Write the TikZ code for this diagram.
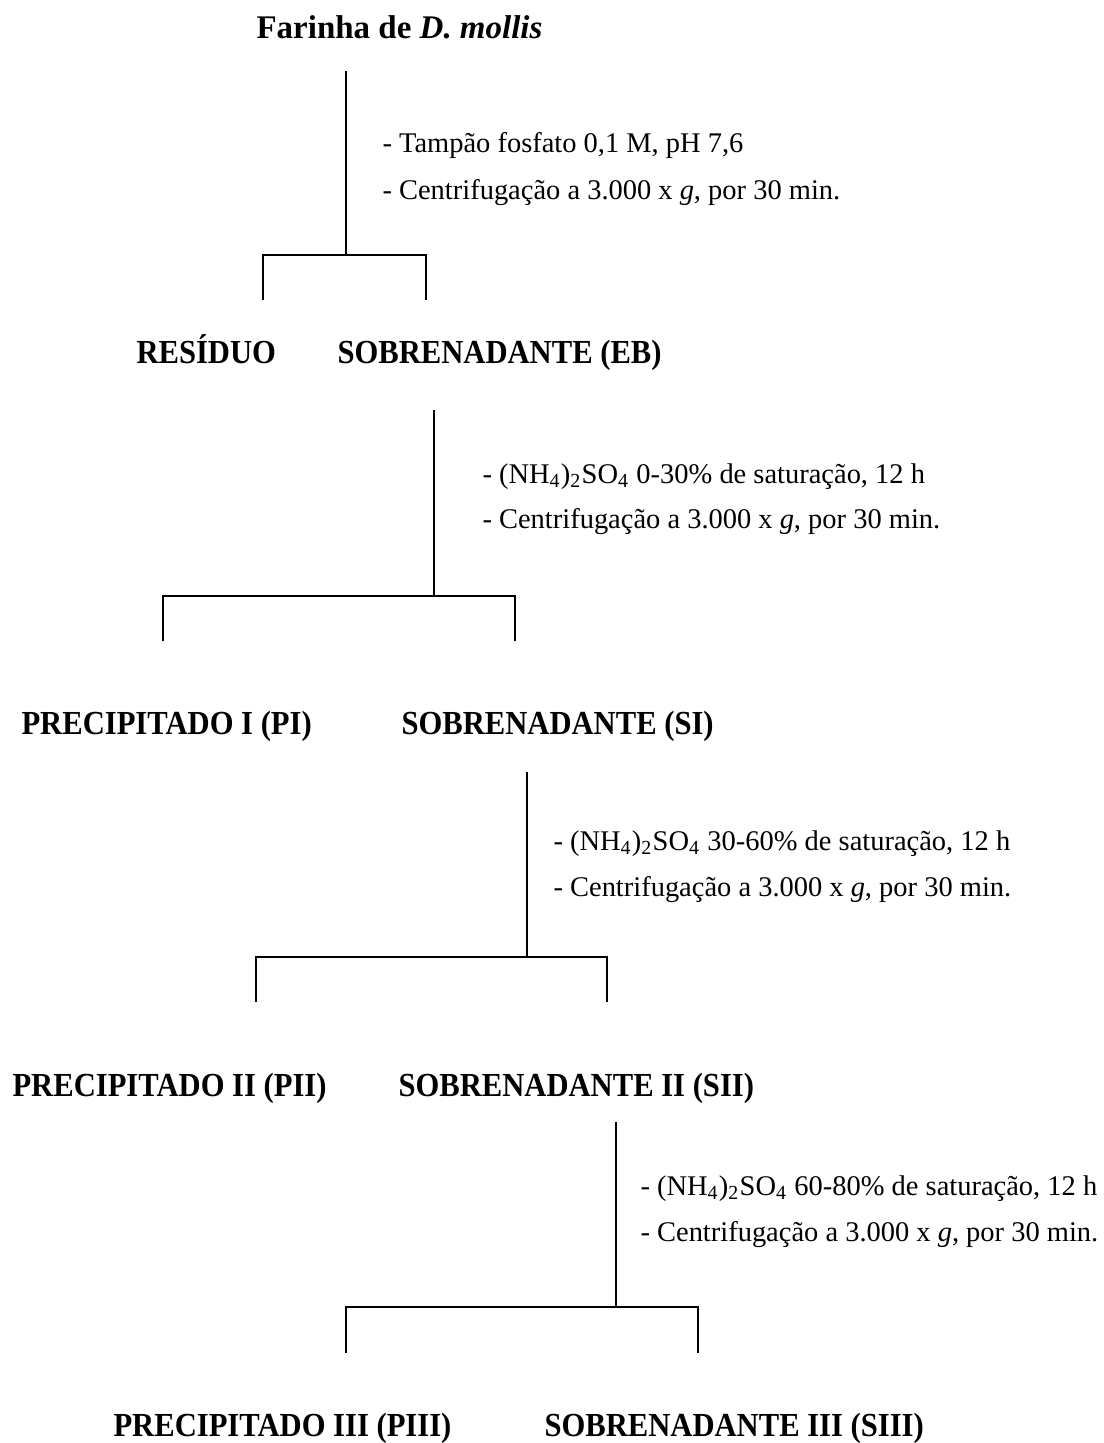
\documentclass[tikz,border=0pt]{standalone}
\usepackage{fontspec}
\setmainfont{Liberation Serif}
\newfontfamily\fractionfont[FakeStretch=0.91]{Liberation Serif}

\tikzset{
    px/.style={x=0.013587cm,y=-0.013587cm},
    headline/.style={anchor=base west,inner sep=0pt,font=\bfseries\fontsize{12.75}{15}\selectfont},
    fraction/.style={anchor=base west,inner sep=0pt,font=\fractionfont\bfseries\fontsize{13}{15}\selectfont},
    treatment/.style={anchor=base west,inner sep=0pt,font=\fontsize{11}{13}\selectfont},
    sepline/.style={line width=1.1pt},
}

\begin{document}
\begin{tikzpicture}[px]
        \useasboundingbox (0,0) rectangle (1104,1443);
        % starting material
        \node [headline] (farinha) at (256,38) {Farinha de \textit{D. mollis}};
        % extraction
        \coordinate (top1) at (346,71);
        \coordinate (mid1) at (346,255);
        \coordinate (left1) at (263,300);
        \coordinate (right1) at (426,300);
        \node [treatment] (tampao) at (382,152) {- Tampão fosfato 0,1 M, pH 7,6};
        \node [treatment] (cent1) at (382,199) {- Centrifugação a 3.000 x \textit{g}, por 30 min.};
        \node [fraction] (residuo) at (136,363) {RESÍDUO};
        \node [fraction] (eb) at (337,363) {SOBRENADANTE (EB)};
        % 0-30%
        \coordinate (top2) at (434,410);
        \coordinate (mid2) at (434,596);
        \coordinate (left2) at (163,641);
        \coordinate (right2) at (515,641);
        \node [treatment] (sulf2) at (482,483) {- (NH\textsubscript{4})\textsubscript{2}SO\textsubscript{4} 0-30\% de saturação, 12 h};
        \node [treatment] (cent2) at (482,528) {- Centrifugação a 3.000 x \textit{g}, por 30 min.};
        \node [fraction] (pi) at (21,734) {PRECIPITADO I (PI)};
        \node [fraction] (si) at (401,734) {SOBRENADANTE (SI)};
        % 30-60%
        \coordinate (top3) at (527,772);
        \coordinate (mid3) at (527,957);
        \coordinate (left3) at (256,1002);
        \coordinate (right3) at (607,1002);
        \node [treatment] (sulf3) at (553,850) {- (NH\textsubscript{4})\textsubscript{2}SO\textsubscript{4} 30-60\% de saturação, 12 h};
        \node [treatment] (cent3) at (553,896) {- Centrifugação a 3.000 x \textit{g}, por 30 min.};
        \node [fraction] (pii) at (12,1096) {PRECIPITADO II (PII)};
        \node [fraction] (sii) at (398,1096) {SOBRENADANTE II (SII)};
        % 60-80%
        \coordinate (top4) at (616,1122);
        \coordinate (mid4) at (616,1307);
        \coordinate (left4) at (346,1353);
        \coordinate (right4) at (698,1353);
        \node [treatment] (sulf4) at (640,1195) {- (NH\textsubscript{4})\textsubscript{2}SO\textsubscript{4} 60-80\% de saturação, 12 h};
        \node [treatment] (cent4) at (640,1241) {- Centrifugação a 3.000 x \textit{g}, por 30 min.};
        \node [fraction] (piii) at (113,1436) {PRECIPITADO III (PIII)};
        \node [fraction] (siii) at (544,1436) {SOBRENADANTE III (SIII)};

        \draw [sepline] (top1) -- (mid1);
        \draw [sepline] (left1) |- (mid1) -| (right1);
        \draw [sepline] (top2) -- (mid2);
        \draw [sepline] (left2) |- (mid2) -| (right2);
        \draw [sepline] (top3) -- (mid3);
        \draw [sepline] (left3) |- (mid3) -| (right3);
        \draw [sepline] (top4) -- (mid4);
        \draw [sepline] (left4) |- (mid4) -| (right4);
    \end{tikzpicture}
\end{document}
